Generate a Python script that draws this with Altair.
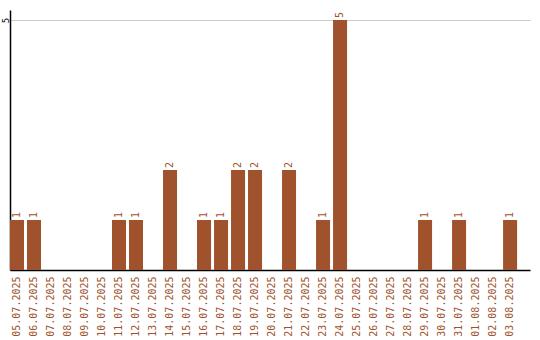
import altair as alt
import pandas as pd

dates = [
    "05.07.2025", "06.07.2025", "07.07.2025", "08.07.2025", "09.07.2025",
    "10.07.2025", "11.07.2025", "12.07.2025", "13.07.2025", "14.07.2025",
    "15.07.2025", "16.07.2025", "17.07.2025", "18.07.2025", "19.07.2025",
    "20.07.2025", "21.07.2025", "22.07.2025", "23.07.2025", "24.07.2025",
    "25.07.2025", "26.07.2025", "27.07.2025", "28.07.2025", "29.07.2025",
    "30.07.2025", "31.07.2025", "01.08.2025", "02.08.2025", "03.08.2025",
]
counts = [1, 1, 0, 0, 0, 0, 1, 1, 0, 2,
          0, 1, 1, 2, 2, 0, 2, 0, 1, 5,
          0, 0, 0, 0, 1, 0, 1, 0, 0, 1]

df = pd.DataFrame({"date": dates, "count": counts})
nonzero = df[df["count"] > 0]

BAR = "#a0522d"
FONT = "DejaVu Sans Mono"

x = alt.X(
    "date:N", sort=dates, title=None,
    scale=alt.Scale(paddingInner=0.176, paddingOuter=0.38, align=0),
    axis=alt.Axis(labelAngle=-90, labelColor=BAR, labelFont=FONT, labelFontSize=10,
                  ticks=False, domainColor="black", domainWidth=1.5, labelPadding=6,
                  grid=False),
)
y = alt.Y(
    "count:Q", title=None,
    scale=alt.Scale(domain=[0, 5.2], nice=False),
    axis=alt.Axis(values=[5], ticks=False, labelAngle=-90, labelFont=FONT, labelFontSize=9,
                  labelColor="black", labelAlign="center", labelBaseline="middle",
                  labelPadding=5, labelBound=False, domainColor="black", domainWidth=1.5,
                  grid=True, gridColor="#cccccc"),
)

bars = alt.Chart(df).mark_bar(color=BAR).encode(x=x, y=y)

labels = alt.Chart(nonzero).mark_text(
    angle=270, align="left", baseline="middle", dx=2,
    color=BAR, font=FONT, fontSize=10,
).encode(x=alt.X("date:N", sort=dates), y="count:Q", text="count:Q")

chart = (bars + labels).properties(
    width=520, height=260,
    autosize=alt.AutoSizeParams(type="none"),
    padding={"left": 10, "top": 10, "right": 10, "bottom": 70},
).configure_view(stroke=None)

chart.save("out.html", embed_options={"renderer": "svg", "actions": False})
